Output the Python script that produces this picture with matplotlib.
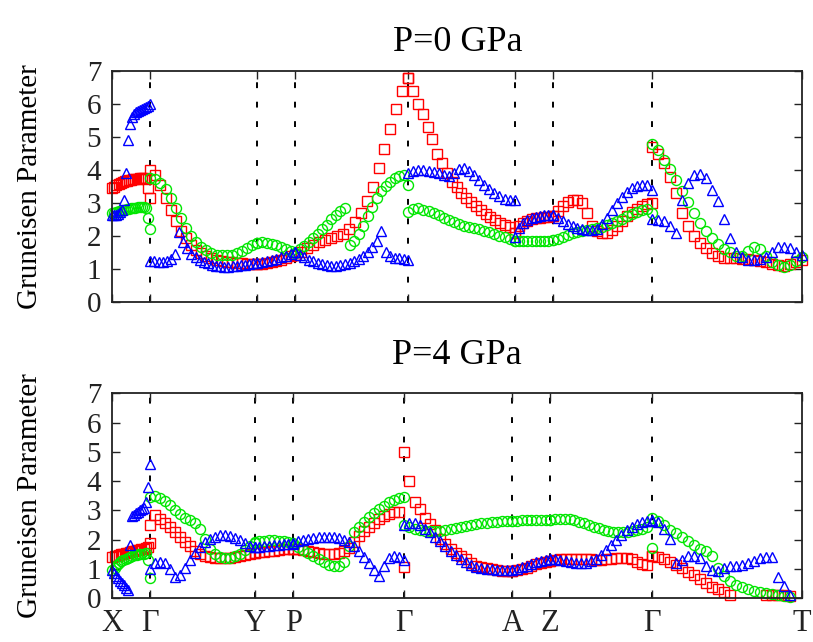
import numpy as np
import matplotlib
matplotlib.use("Agg")
import matplotlib.pyplot as plt

plt.rcParams['font.family'] = ['Liberation Serif', 'DejaVu Serif']

KLabels = ['X', 'Γ', 'Y', 'P', 'Γ', 'A', 'Z', 'Γ', 'T']
KPos0 = [0, 38, 145, 183, 296, 402.4, 440.4, 539.7, 690]
KPos4 = [0, 38, 142.4, 181, 292, 400, 438, 539.7, 690]

# P = 0 GPa, one list per path segment (X-G, G-Y, Y-P, P-G, G-A, A-Z, Z-G, G-T)
Red0 = [
    [3.45, 3.5, 3.54, 3.58, 3.61, 3.64, 3.66, 3.68, 3.7, 3.71, 3.72, 3.73, 3.74, 3.75, 3.75, 3.75, 3.74, 3.45, 3.15],
    [4.0, 3.85, 3.55, 3.15, 2.8, 2.45, 2.15, 1.92, 1.72, 1.58, 1.47, 1.38, 1.32, 1.27, 1.24, 1.21, 1.19, 1.17, 1.16, 1.15, 1.14, 1.14],
    [1.14, 1.15, 1.17, 1.2, 1.24, 1.28, 1.33, 1.38, 1.43],
    [1.43, 1.52, 1.62, 1.72, 1.8, 1.87, 1.93, 1.98, 2.06, 2.2, 2.42, 2.7, 3.05, 3.5, 4.05, 4.65, 5.25, 5.85, 6.4, 6.8],
    [6.8, 6.4, 6.0, 5.7, 5.3, 4.95, 4.5, 4.2, 3.9, 3.65, 3.48, 3.3, 3.15, 3.02, 2.92, 2.8, 2.67, 2.56, 2.47, 2.38, 2.32, 2.28, 2.1],
    [2.1, 2.3, 2.4, 2.46, 2.5, 2.53, 2.55, 2.57, 2.58, 2.6],
    [2.6, 2.75, 2.92, 3.02, 3.08, 3.08, 3.0, 2.7, 2.3, 2.15, 2.1, 2.1, 2.18, 2.3, 2.45, 2.6, 2.72, 2.82, 2.9, 2.97, 3.0],
    [4.7, 4.5, 4.2, 3.8, 3.3, 2.7, 2.3, 2.0, 1.78, 1.62, 1.48, 1.38, 1.34, 1.33, 1.32, 1.31, 1.3, 1.28, 1.25, 1.2, 1.14, 1.1, 1.08, 1.13, 1.2, 1.27],
]
Green0 = [
    [2.68, 2.7, 2.72, 2.74, 2.76, 2.78, 2.8, 2.81, 2.83, 2.84, 2.85, 2.86, 2.87, 2.88, 2.88, 2.87, 2.85, 2.55, 2.22],
    [3.75, 3.72, 3.6, 3.42, 3.15, 2.85, 2.55, 2.25, 2.0, 1.82, 1.67, 1.56, 1.48, 1.43, 1.41, 1.41, 1.43, 1.47, 1.55, 1.63, 1.72, 1.77],
    [1.78, 1.8, 1.79, 1.76, 1.72, 1.66, 1.6, 1.54, 1.48],
    [1.48, 1.6, 1.7, 1.8, 1.92, 2.05, 2.2, 2.33, 2.5, 2.63, 2.76, 2.86, 1.72, 1.84, 2.05, 2.3, 2.6, 2.88, 3.14, 3.35, 3.52, 3.64, 3.76, 3.82, 3.85, 3.55],
    [2.72, 2.82, 2.84, 2.8, 2.75, 2.68, 2.62, 2.55, 2.48, 2.42, 2.36, 2.31, 2.27, 2.23, 2.2, 2.16, 2.12, 2.06, 2.0, 1.95, 1.9, 1.85],
    [1.85, 1.85, 1.84, 1.84, 1.84, 1.84, 1.84, 1.85, 1.85, 1.86],
    [1.86, 1.9, 1.97, 2.03, 2.08, 2.12, 2.15, 2.18, 2.2, 2.23, 2.27, 2.32, 2.38, 2.45, 2.52, 2.6, 2.67, 2.73, 2.78, 2.82, 2.7],
    [4.8, 4.6, 4.32, 4.02, 3.7, 3.36, 3.02, 2.7, 2.4, 2.15, 1.92, 1.75, 1.6, 1.5, 1.4, 1.38, 1.55, 1.66, 1.6, 1.4, 1.2, 1.1, 1.05, 1.12, 1.22, 1.35],
]
Blue0 = [
    [2.62, 2.62, 2.64, 2.67, 2.72, 2.8, 3.1, 3.9, 4.9, 5.4, 5.6, 5.7, 5.76, 5.8, 5.84, 5.87, 5.9, 5.92, 5.95, 6.02],
    [1.25, 1.22, 1.2, 1.2, 1.23, 1.3, 1.45, 2.12, 1.8, 1.62, 1.45, 1.35, 1.28, 1.21, 1.16, 1.12, 1.09, 1.07, 1.06, 1.06, 1.07, 1.08, 1.1, 1.12, 1.14, 1.16, 1.18],
    [1.18, 1.2, 1.23, 1.27, 1.31, 1.35, 1.4, 1.45, 1.5],
    [1.5, 1.42, 1.35, 1.28, 1.22, 1.17, 1.13, 1.1, 1.09, 1.09, 1.1, 1.13, 1.17, 1.23, 1.3, 1.4, 1.52, 1.66, 1.85, 2.15, 1.5, 1.38, 1.33, 1.32, 1.3, 1.28],
    [3.92, 3.98, 4.0, 4.0, 3.98, 3.95, 3.9, 3.85, 3.82, 3.9, 4.02, 4.05, 3.98, 3.85, 3.7, 3.55, 3.42, 3.3, 3.2, 3.12, 3.1, 3.08],
    [1.95, 2.25, 2.4, 2.48, 2.53, 2.57, 2.6, 2.62, 2.63, 2.64],
    [2.64, 2.55, 2.45, 2.37, 2.3, 2.24, 2.2, 2.18, 2.18, 2.22, 2.35, 2.55, 2.78, 3.0, 3.18, 3.33, 3.45, 3.52, 3.55, 3.56, 3.4],
    [2.5, 2.48, 2.45, 2.3, 2.1, 3.1, 3.6, 3.85, 3.88, 3.75, 3.4, 3.05, 2.5, 1.92, 1.5, 1.35, 1.28, 1.27, 1.3, 1.36, 1.52, 1.65, 1.67, 1.62, 1.52, 1.42],
]

# P = 4 GPa
Red4 = [
    [1.42, 1.44, 1.46, 1.48, 1.5, 1.52, 1.54, 1.56, 1.58, 1.6, 1.62, 1.64, 1.66, 1.68, 1.7, 1.72, 1.75, 1.88],
    [2.5, 2.85, 2.72, 2.58, 2.42, 2.27, 2.1, 1.93, 1.77, 1.63, 1.53, 1.46, 1.42, 1.39, 1.37, 1.37, 1.38, 1.41, 1.44, 1.48, 1.52, 1.55],
    [1.55, 1.57, 1.59, 1.61, 1.63, 1.65, 1.67, 1.68, 1.7],
    [1.7, 1.68, 1.65, 1.62, 1.58, 1.55, 1.53, 1.52, 1.52, 1.54, 1.6, 1.72, 1.92, 2.13, 2.3, 2.45, 2.58, 2.7, 2.8, 2.88, 2.94, 2.95, 1.08],
    [5.0, 4.0, 3.3, 3.05, 2.75, 2.55, 2.35, 2.04, 1.87, 1.7, 1.56, 1.43, 1.33, 1.22, 1.12, 1.07, 1.03, 0.99, 0.96, 0.94, 0.93, 0.93],
    [0.93, 0.95, 0.99, 1.04, 1.1, 1.16, 1.21, 1.25, 1.28],
    [1.28, 1.31, 1.33, 1.34, 1.35, 1.35, 1.35, 1.34, 1.33, 1.32, 1.32, 1.33, 1.35, 1.37, 1.38, 1.37, 1.33, 1.25, 1.18, 1.15, 1.45],
    [1.45, 1.4, 1.34, 1.25, 1.15, 1.03, 0.9, 0.78, 0.65, 0.52, 0.4, 0.3, 0.2, 0.1, -0.3, -0.5, -0.6, -0.6, -0.5, 0.1, 0.1, 0.1, 0.12, 0.08, -0.3, -0.5],
]
Green4 = [
    [0.95, 1.05, 1.13, 1.2, 1.26, 1.31, 1.35, 1.39, 1.42, 1.45, 1.47, 1.49, 1.51, 1.52, 1.53, 1.54, 1.32, 0.7],
    [3.45, 3.48, 3.42, 3.32, 3.18, 3.02, 2.88, 2.75, 2.66, 2.57, 2.38, 2.02, 1.7, 1.5, 1.4, 1.37, 1.39, 1.45, 1.53, 1.65, 1.8, 1.9],
    [1.92, 1.95, 1.97, 1.98, 1.98, 1.97, 1.95, 1.92, 1.88],
    [1.85, 1.75, 1.65, 1.55, 1.44, 1.33, 1.23, 1.14, 1.09, 1.1, 1.25, 1.8, 2.25, 2.45, 2.6, 2.78, 2.92, 3.05, 3.17, 3.28, 3.37, 3.44, 3.46],
    [2.5, 2.42, 2.36, 2.32, 2.3, 2.29, 2.29, 2.3, 2.33, 2.36, 2.4, 2.44, 2.48, 2.51, 2.54, 2.56, 2.58, 2.6, 2.62, 2.63, 2.64, 2.65],
    [2.65, 2.65, 2.66, 2.66, 2.66, 2.66, 2.66, 2.66, 2.66],
    [2.66, 2.7, 2.72, 2.72, 2.7, 2.66, 2.61, 2.56, 2.5, 2.45, 2.4, 2.35, 2.3, 2.27, 2.26, 2.26, 2.28, 2.3, 2.33, 2.38, 2.42, 1.73],
    [2.75, 2.65, 2.5, 2.35, 2.22, 2.1, 1.95, 1.82, 1.7, 1.6, 1.45, 1.05, 0.75, 0.58, 0.46, 0.38, 0.32, 0.26, 0.22, 0.17, 0.13, 0.1, 0.08, 0.06, -0.4, -0.6],
]
Blue4 = [
    [0.95, 0.86, 0.77, 0.68, 0.6, 0.52, 0.44, 0.36, 0.29, 1.82, 2.8, 2.85, 2.9, 2.95, 3.0, 3.05, 3.1, 3.3, 3.8, 4.6],
    [1.0, 1.22, 1.25, 1.2, 1.0, 0.72, 0.8, 1.05, 1.3, 1.55, 1.75, 1.92, 2.03, 2.1, 2.15, 2.16, 2.13, 2.07, 1.98, 1.88, 1.8, 1.75],
    [1.75, 1.76, 1.78, 1.8, 1.81, 1.82, 1.84, 1.85, 1.87],
    [1.88, 1.95, 2.0, 2.04, 2.07, 2.09, 2.1, 2.1, 2.09, 2.06, 2.0, 1.93, 1.8, 1.62, 1.42, 1.2, 0.98, 0.75, 1.12, 1.38, 1.45, 1.42, 1.3],
    [2.5, 2.58, 2.57, 2.5, 2.38, 2.25, 2.1, 1.95, 1.78, 1.62, 1.47, 1.35, 1.23, 1.13, 1.08, 1.04, 1.01, 0.99, 0.97, 0.96, 0.95, 0.95],
    [0.95, 1.0, 1.06, 1.12, 1.18, 1.24, 1.29, 1.32, 1.33],
    [1.33, 1.33, 1.31, 1.28, 1.25, 1.22, 1.2, 1.21, 1.26, 1.35, 1.48, 1.64, 1.82, 2.0, 2.17, 2.32, 2.45, 2.55, 2.61, 2.64, 2.65],
    [2.68, 2.6, 2.36, 2.02, 1.2, 1.3, 1.45, 1.45, 1.36, 1.1, 0.95, 0.92, 1.03, 1.1, 1.12, 1.15, 1.2, 1.26, 1.36, 1.42, 1.42, 0.74, 0.42, 0.12, -0.4, -0.6],
]


def path_points(KPos, Segments):
    X = []
    Y = []
    for i, Seg in enumerate(Segments):
        X.append(np.linspace(KPos[i], KPos[i + 1], len(Seg)))
        Y.append(np.array(Seg, dtype=float))
    X = np.concatenate(X)
    Y = np.concatenate(Y)
    Y[Y < 0] = np.nan  # below the plotted range
    return X, Y


def panel(ax, KPos, Red, Green, Blue, Title, ShowLabels, TitlePad):
    Styles = [(Red, '#ff0000', 's', 7.0), (Green, '#00e600', 'o', 7.2), (Blue, '#0000ff', '^', 7.6)]
    for Segs, Color, Marker, Size in Styles:
        X, Y = path_points(KPos, Segs)
        ax.plot(X, Y, linestyle='none', marker=Marker, markersize=Size,
                markerfacecolor='none', markeredgecolor=Color, markeredgewidth=1.0,
                clip_on=False)
    for k in KPos[1:-1]:
        ax.axvline(k, color='black', linewidth=1.4, dashes=(3.0, 7.0), zorder=0)

    ax.set_xlim(KPos[0], KPos[-1])
    ax.set_ylim(0, 7)
    ax.set_yticks(range(8))
    ax.set_xticks(KPos)
    if ShowLabels:
        ax.set_xticklabels(KLabels)
    else:
        ax.set_xticklabels([])
    ax.tick_params(direction='in', length=6, width=1, right=True, top=True, colors='#222222')
    ax.tick_params(axis='y', pad=8, labelsize=21)
    ax.tick_params(axis='x', pad=8, labelsize=22)
    for s in ax.spines.values():
        s.set_linewidth(1.3)
        s.set_color('#222222')
    ax.set_title(Title, fontsize=26, pad=TitlePad)
    ax.set_ylabel('Gruneisen Parameter', fontsize=21)
    ax.yaxis.set_label_coords(-0.1, 0.5)


fig = plt.figure(figsize=(8.13, 6.42), dpi=100)
ax0 = fig.add_axes([0.1381, 0.5302, 0.8487, 0.3586])
ax4 = fig.add_axes([0.1381, 0.0681, 0.8487, 0.3191])

panel(ax0, KPos0, Red0, Green0, Blue0, 'P=0 GPa', False, 15)
panel(ax4, KPos4, Red4, Green4, Blue4, 'P=4 GPa', True, 21)

fig.savefig('out.png', dpi=100)
